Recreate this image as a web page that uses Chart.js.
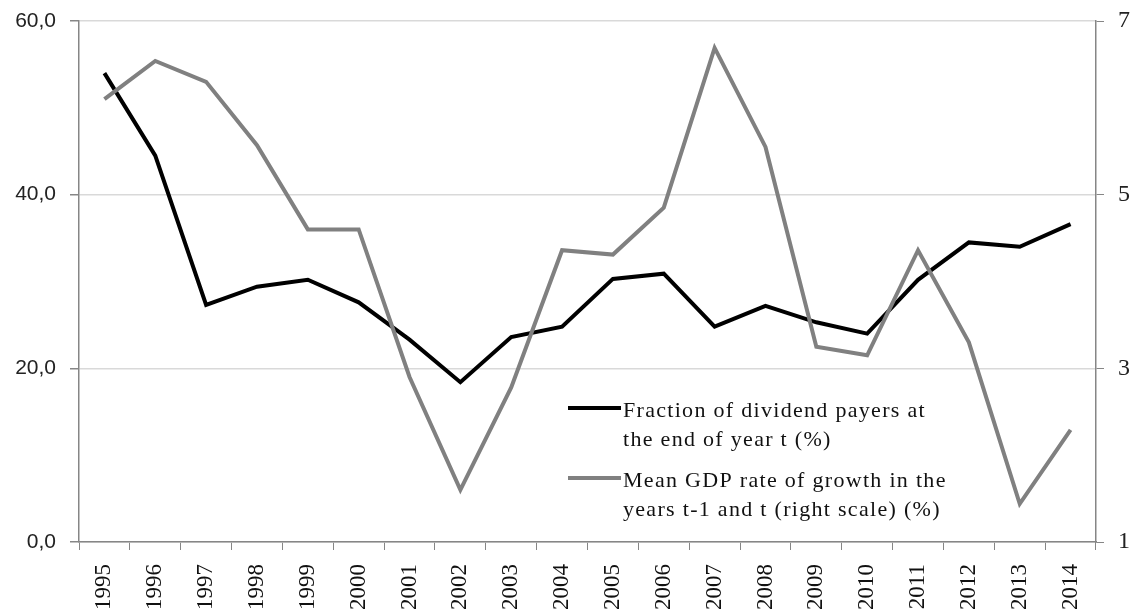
<!DOCTYPE html>
<html>
<head>
<meta charset="utf-8">
<script src="https://cdn.jsdelivr.net/npm/chart.js@4/dist/chart.umd.min.js"></script>
<style>
  html, body { margin: 0; padding: 0; background: #fff; }
  #holder { width: 1131px; height: 610px; }
</style>
</head>
<body>
<div id="holder"><canvas id="myChart" width="1131" height="610"></canvas></div>
<script>
// data
var years = ['1995','1996','1997','1998','1999','2000','2001','2002','2003','2004',
             '2005','2006','2007','2008','2009','2010','2011','2012','2013','2014'];
var payers = [54.0, 44.5, 27.3, 29.4, 30.2, 27.6, 23.3, 18.4, 23.6, 24.8,
              30.3, 30.9, 24.8, 27.2, 25.3, 24.0, 30.2, 34.5, 34.0, 36.6];
var gdp = [6.10, 6.54, 6.30, 5.57, 4.60, 4.60, 2.90, 1.60, 2.78, 4.36,
           4.31, 4.85, 6.69, 5.55, 3.25, 3.15, 4.36, 3.30, 1.44, 2.29];
var leftTicks = [0, 20, 40, 60];
var rightTicks = [1, 3, 5, 7];
var payersLabel = ['Fraction of dividend payers at', 'the end of year t (%)'];
var gdpLabel = ['Mean GDP rate of growth in the', 'years t-1 and t (right scale) (%)'];

var axisGrey = '#868686';

// legend sits inside the plot, bottom right
var insideLegend = {
  id: 'insideLegend',
  afterDraw: function(chart) {
    var ctx = chart.ctx;
    var items = [
      { color: '#000000', lines: payersLabel, y: 408 },
      { color: '#808080', lines: gdpLabel, y: 478 }
    ];
    ctx.save();
    ctx.font = '22px "Liberation Serif", "Times New Roman", serif';
    ctx.fillStyle = '#111';
    ctx.textBaseline = 'alphabetic';
    if ('letterSpacing' in ctx) ctx.letterSpacing = '1.3px';
    items.forEach(function(it) {
      ctx.strokeStyle = it.color;
      ctx.lineWidth = 4;
      ctx.beginPath();
      ctx.moveTo(568, it.y);
      ctx.lineTo(621, it.y);
      ctx.stroke();
      ctx.fillText(it.lines[0], 623, it.y + 9);
      ctx.fillText(it.lines[1], 623, it.y + 38);
    });
    ctx.restore();
  }
};

// keep the y axes from pushing the plot area down
function noPad(s) {
  s.paddingTop = 0;
  s.paddingBottom = 0;
}

var myChart = document.getElementById('myChart').getContext('2d');
var chart = new Chart(myChart, {
  type: 'line',
  data: {
    labels: years,
    datasets: [{
      label: payersLabel.join(' '),
      data: payers,
      yAxisID: 'y',
      borderColor: '#000000',
      borderWidth: 4,
      pointRadius: 0,
      tension: 0,
      order: 2
    }, {
      label: gdpLabel.join(' '),
      data: gdp,
      yAxisID: 'y2',
      borderColor: '#808080',
      borderWidth: 4,
      pointRadius: 0,
      tension: 0,
      order: 1
    }]
  },
  options: {
    responsive: false,
    animation: false,
    maintainAspectRatio: false,
    layout: { padding: { top: 21, left: 0, right: 0, bottom: 0 } },
    plugins: {
      legend: { display: false },
      tooltip: { enabled: false }
    },
    scales: {
      x: {
        offset: true,
        grid: { offset: true, drawOnChartArea: false, tickLength: 8, tickColor: axisGrey },
        border: { color: axisGrey, width: 1.5 },
        ticks: {
          autoSkip: false,
          minRotation: 90,
          maxRotation: 90,
          padding: 14,
          color: '#111',
          font: { family: '"Liberation Serif", "Times New Roman", serif', size: 23 }
        },
        afterFit: function(s) { s.height = 68; }
      },
      y: {
        position: 'left',
        min: 0,
        max: 60,
        afterBuildTicks: function(s) { s.ticks = leftTicks.map(function(v) { return { value: v }; }); },
        grid: { color: '#d9d9d9', lineWidth: 1.5, tickLength: 9, tickColor: axisGrey },
        border: { color: axisGrey, width: 1.5 },
        ticks: {
          padding: 14,
          color: '#222',
          font: { family: '"Liberation Sans", Arial, sans-serif', size: 21 },
          callback: function(v) { return v.toFixed(1).replace('.', ','); }
        },
        afterFit: function(s) { s.width = 79; noPad(s); }
      },
      y2: {
        position: 'right',
        min: 1,
        max: 7,
        afterBuildTicks: function(s) { s.ticks = rightTicks.map(function(v) { return { value: v }; }); },
        grid: { drawOnChartArea: false, tickLength: 8, tickColor: axisGrey },
        border: { color: axisGrey, width: 1.5 },
        ticks: {
          padding: 14,
          color: '#222',
          font: { family: '"Liberation Serif", "Times New Roman", serif', size: 24 }
        },
        afterFit: function(s) { s.width = 35; noPad(s); }
      }
    }
  },
  plugins: [insideLegend]
});
</script>
</body>
</html>
